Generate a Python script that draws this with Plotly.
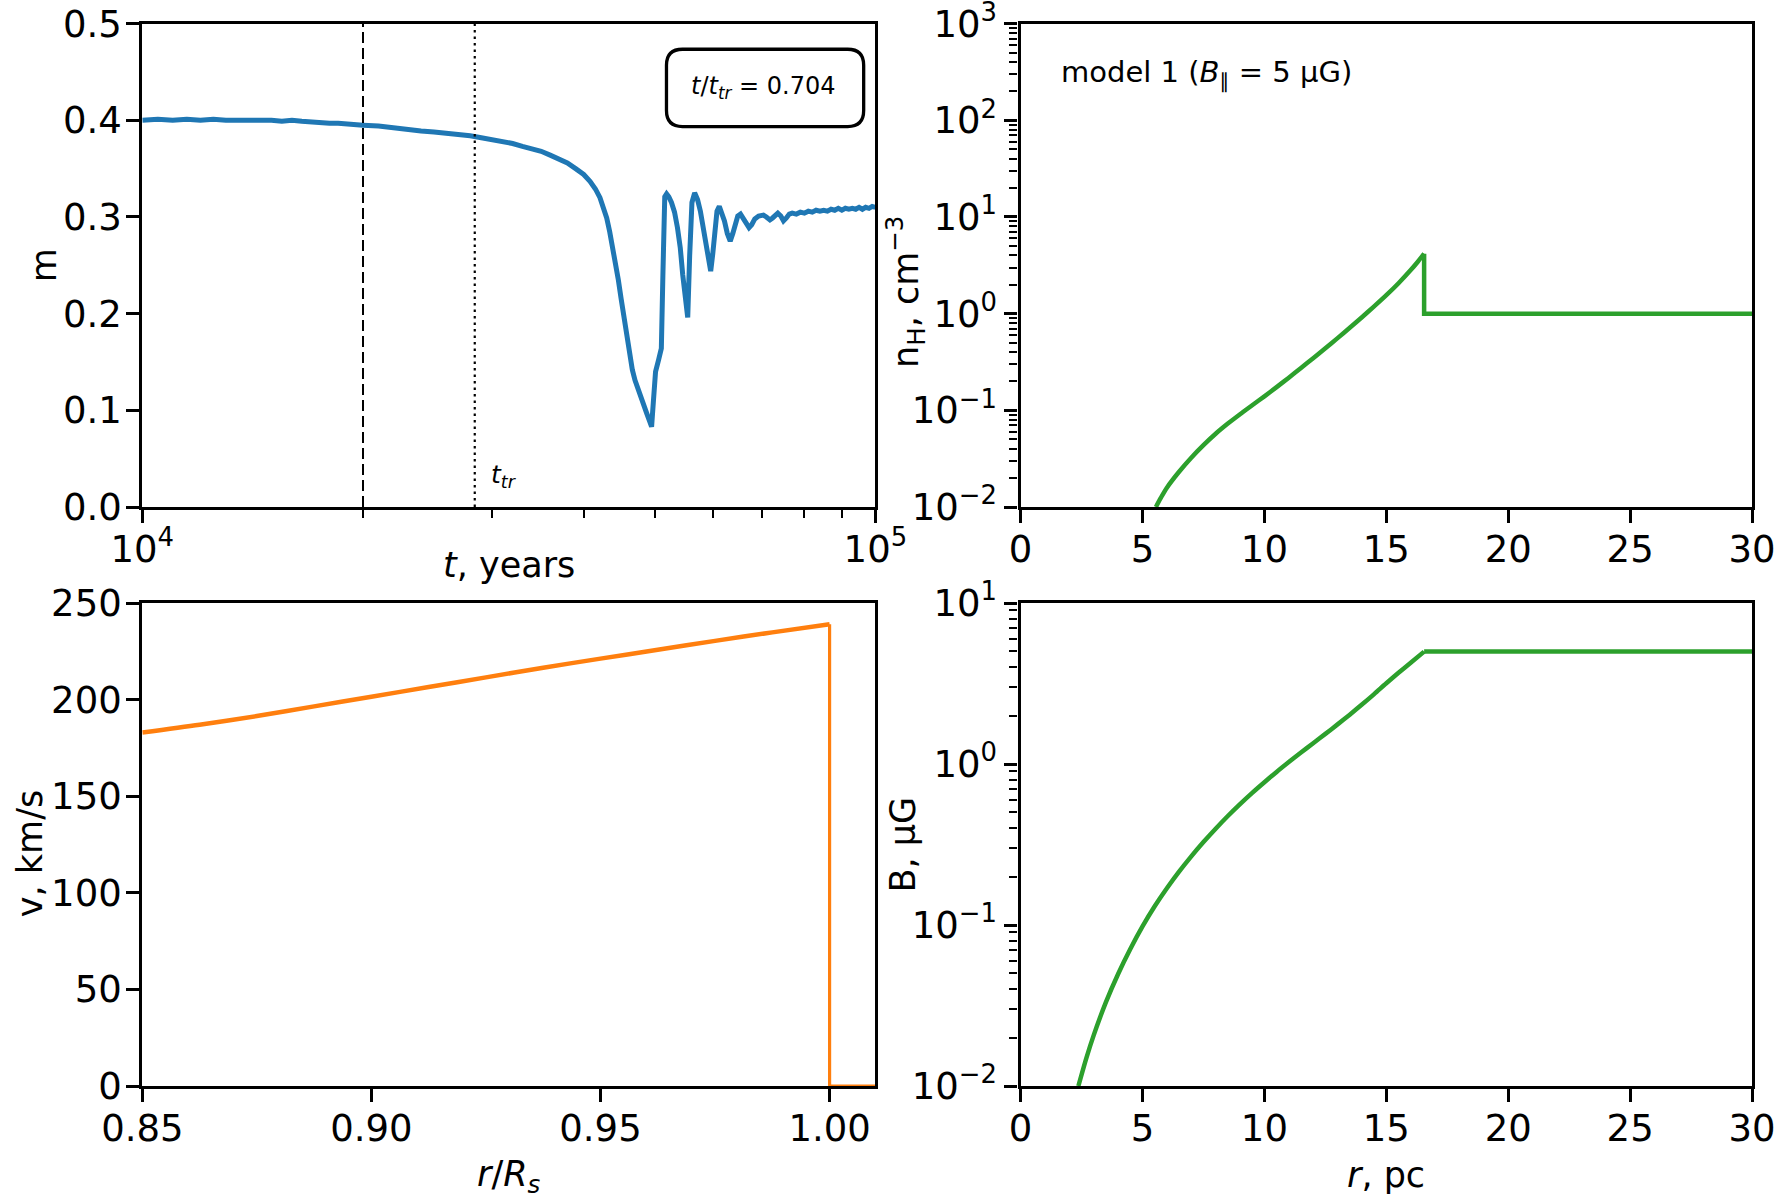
import plotly.graph_objects as go

# ---------------- data ----------------
t_years = [10000, 10500, 11000, 11500, 12000, 12500, 13000, 13500, 14000, 14500,
           15000, 15500, 16000, 16500, 17000, 17500, 18000, 18500, 19000, 19500,
           20000, 21000, 22000, 23000, 24000, 25000, 26000, 27000, 28000, 29000,
           30000, 31000, 32000, 33000, 34000, 35000, 36000, 37000, 38000, 39000,
           40000, 40800, 41500, 42100, 42600, 43000, 43400, 43800, 44200, 44600,
           45000, 45400, 45800, 46200, 46600, 47000, 47600, 48200, 48800, 49300,
           49510, 49800, 50130, 50600, 51050, 51300, 51600, 51900, 52260, 52700,
           53210, 53700, 54180, 54600, 55000, 55460, 55800, 56200, 56680, 57200,
           57710, 58200, 58700, 59200, 59610, 60000, 60400, 60800, 61240, 61700,
           62240, 62800, 63380, 63900, 64400, 64900, 65460, 66000, 66600, 67240,
           67800, 68470, 69300, 70350, 71000, 71800, 72400, 72940, 73600, 74300,
           74930, 75600, 76300, 77000, 78000, 79000, 80000, 81000, 82000, 83000,
           84000, 85000, 86000, 87000, 88000, 89000, 90000, 91000, 92000, 93000,
           94000, 95000, 96000, 97000, 98000, 99000, 100000]
m_vals = [0.400, 0.401, 0.400, 0.401, 0.400, 0.401, 0.400, 0.400, 0.401, 0.400,
          0.400, 0.399, 0.400, 0.399, 0.398, 0.398, 0.397, 0.397, 0.396, 0.395,
          0.395, 0.394, 0.392, 0.391, 0.389, 0.388, 0.387, 0.385, 0.384, 0.382,
          0.380, 0.378, 0.376, 0.373, 0.371, 0.368, 0.364, 0.360, 0.356, 0.350,
          0.344, 0.337, 0.329, 0.320, 0.310, 0.299, 0.285, 0.270, 0.253, 0.235,
          0.215, 0.195, 0.176, 0.158, 0.142, 0.131, 0.118, 0.107, 0.096, 0.087,
          0.083, 0.110, 0.140, 0.152, 0.164, 0.240, 0.321, 0.324, 0.321, 0.315,
          0.305, 0.289, 0.268, 0.240, 0.215, 0.196, 0.260, 0.315, 0.325, 0.318,
          0.306, 0.290, 0.270, 0.252, 0.244, 0.262, 0.290, 0.306, 0.311, 0.305,
          0.296, 0.283, 0.275, 0.283, 0.293, 0.301, 0.303, 0.299, 0.293, 0.289,
          0.292, 0.298, 0.301, 0.302, 0.300, 0.297, 0.299, 0.302, 0.304, 0.301,
          0.296, 0.299, 0.303, 0.304, 0.303, 0.305, 0.304, 0.306, 0.305, 0.307,
          0.306, 0.307, 0.306, 0.308, 0.307, 0.309, 0.307, 0.309, 0.308, 0.309,
          0.308, 0.310, 0.308, 0.310, 0.309, 0.311, 0.310]
t_now = 20000
t_tr = 28410
ratio_label = "0.704"

r_rel = [0.85, 0.8625, 0.875, 0.8875, 0.9, 0.9125, 0.925, 0.9375, 0.95,
         0.9625, 0.975, 0.9875, 1.0, 1.0, 1.01]
v_kms = [183, 187, 191.5, 196.5, 201.5, 206.5, 211.5, 216.5, 221.2,
         225.8, 230.4, 234.8, 239, 0, 0]
v_peak = 12  # index of the shock front in r_rel / v_kms

r_pc_n = [5.55, 5.75, 6.0, 6.5, 7.0, 7.5, 8.0, 8.5, 9.0, 9.5, 10.0, 10.5, 11.0,
          11.5, 12.0, 12.5, 13.0, 13.5, 14.0, 14.5, 15.0, 15.5, 16.0, 16.3, 16.55,
          16.55, 30.0]
n_H = [0.0100, 0.01242, 0.01585, 0.02317, 0.03236, 0.04365, 0.05723, 0.07286,
       0.09120, 0.1129, 0.1396, 0.1738, 0.2178, 0.2742, 0.3459, 0.4385, 0.5585,
       0.7145, 0.9183, 1.189, 1.552, 2.065, 2.825, 3.467, 4.169, 1.0, 1.0]
n_peak = 24

r_pc_B = [2.37, 2.7, 3.0, 3.5, 4.0, 4.5, 5.0, 5.5, 6.0, 6.5, 7.0, 7.5, 8.0,
          8.5, 9.0, 9.5, 10.0, 10.5, 11.0, 11.5, 12.0, 12.5, 13.0, 13.5, 14.0,
          14.5, 15.0, 15.5, 16.0, 16.55, 30.0]
B_uG = [0.0100, 0.01496, 0.02070, 0.03319, 0.04966, 0.07096, 0.09795, 0.1306,
        0.1690, 0.2143, 0.2667, 0.3273, 0.3963, 0.4753, 0.5636, 0.6622, 0.7709,
        0.8933, 1.028, 1.178, 1.346, 1.538, 1.762, 2.025, 2.339, 2.716, 3.174,
        3.686, 4.256, 4.989, 4.989]
B_peak = 29

m_ticks = [0.0, 0.1, 0.2, 0.3, 0.4, 0.5]
t_major = [1e4, 1e5]
t_major_text = ["10<sup>4</sup>", "10<sup>5</sup>"]
t_minor = [2e4, 3e4, 4e4, 5e4, 6e4, 7e4, 8e4, 9e4]
r_ticks = [0, 5, 10, 15, 20, 25, 30]
n_major = [1e-2, 1e-1, 1e0, 1e1, 1e2, 1e3]
n_major_text = ["10<sup>−2</sup>", "10<sup>−1</sup>", "10<sup>0</sup>",
                "10<sup>1</sup>", "10<sup>2</sup>", "10<sup>3</sup>"]
B_major = [1e-2, 1e-1, 1e0, 1e1]
B_major_text = ["10<sup>−2</sup>", "10<sup>−1</sup>", "10<sup>0</sup>", "10<sup>1</sup>"]
rr_ticks = [0.85, 0.90, 0.95, 1.00]
v_ticks = [0, 50, 100, 150, 200, 250]


def log_minor(lo, hi):
    out = []
    for k in range(lo, hi):
        for d in range(2, 10):
            out.append(d * 10.0 ** k)
    return out


# ---------------- layout geometry ----------------
XD1 = [0.0796, 0.4896]
XD2 = [0.5708, 0.9799]
YDT = [0.5775, 0.9803]
YDB = [0.095, 0.4975]

FONT = "DejaVu Sans"
TICKF = dict(family=FONT, size=37, color="black")
BLUE, ORANGE, GREEN = "#1f77b4", "#ff7f0e", "#2ca02c"
LW = 3.4
CW = 4.5

fig = go.Figure()

fig.add_trace(go.Scatter(x=t_years, y=m_vals, mode="lines",
                         line=dict(color=BLUE, width=5), xaxis="x", yaxis="y"))
fig.add_trace(go.Scatter(x=[t_now, t_now], y=[m_ticks[0], m_ticks[-1]], mode="lines",
                         line=dict(color="black", width=2, dash="11px,5px"),
                         xaxis="x", yaxis="y"))
fig.add_trace(go.Scatter(x=[t_tr, t_tr], y=[m_ticks[0], m_ticks[-1]], mode="lines",
                         line=dict(color="black", width=2.2, dash="2.5px,4px"),
                         xaxis="x", yaxis="y"))
# n_H: smooth interior part + jump and flat ambient part
fig.add_trace(go.Scatter(x=r_pc_n[:n_peak + 1], y=n_H[:n_peak + 1], mode="lines",
                         line=dict(color=GREEN, width=CW, shape="spline", smoothing=0.8),
                         xaxis="x2", yaxis="y2"))
fig.add_trace(go.Scatter(x=r_pc_n[n_peak:], y=n_H[n_peak:], mode="lines",
                         line=dict(color=GREEN, width=CW), xaxis="x2", yaxis="y2"))
# velocity
fig.add_trace(go.Scatter(x=r_rel[:v_peak + 1], y=v_kms[:v_peak + 1], mode="lines",
                         line=dict(color=ORANGE, width=CW, shape="spline", smoothing=0.8),
                         xaxis="x3", yaxis="y3"))
fig.add_trace(go.Scatter(x=r_rel[v_peak:], y=v_kms[v_peak:], mode="lines",
                         line=dict(color=ORANGE, width=3.2), xaxis="x3", yaxis="y3"))
# B
fig.add_trace(go.Scatter(x=r_pc_B[:B_peak + 1], y=B_uG[:B_peak + 1], mode="lines",
                         line=dict(color=GREEN, width=CW, shape="spline", smoothing=0.8),
                         xaxis="x4", yaxis="y4"))
fig.add_trace(go.Scatter(x=r_pc_B[B_peak:], y=B_uG[B_peak:], mode="lines",
                         line=dict(color=GREEN, width=CW), xaxis="x4", yaxis="y4"))


def ax(**kw):
    base = dict(showline=True, mirror=True, linecolor="black", linewidth=LW,
                ticks="outside", ticklen=13, tickwidth=LW, tickcolor="black",
                showgrid=False, zeroline=False, tickfont=TICKF, automargin=False,
                ticklabeloverflow="allow")
    base.update(kw)
    return base


def minor(vals):
    return dict(tickmode="array", tickvals=vals, ticks="outside", ticklen=8,
                tickwidth=2.4, tickcolor="black", showgrid=False)


XSO = -6   # x tick-label standoff
YSO = -3   # linear y tick-label standoff
LSO = 0    # log y tick-label standoff

fig.update_layout(
    width=1788, height=1200, autosize=False,
    margin=dict(l=0, r=0, t=0, b=0, pad=0),
    paper_bgcolor="white", plot_bgcolor="white",
    showlegend=False,
    font=dict(family=FONT, color="black"),
    xaxis=ax(domain=XD1, anchor="y", type="log", range=[4, 5],
             tickmode="array", tickvals=t_major, ticktext=t_major_text,
             minor=minor(t_minor), ticklabelstandoff=XSO),
    yaxis=ax(domain=YDT, anchor="x", range=[0, 0.5], tickmode="array",
             tickvals=m_ticks, tickformat=".1f", ticklabelstandoff=YSO),
    xaxis2=ax(domain=XD2, anchor="y2", range=[0, 30], tickmode="array",
              tickvals=r_ticks, ticklabelstandoff=XSO),
    yaxis2=ax(domain=YDT, anchor="x2", type="log", range=[-2, 3],
              tickmode="array", tickvals=n_major, ticktext=n_major_text,
              minor=minor(log_minor(-2, 3)), ticklabelstandoff=LSO),
    xaxis3=ax(domain=XD1, anchor="y3", range=[0.85, 1.01], tickmode="array",
              tickvals=rr_ticks, tickformat=".2f", ticklabelstandoff=XSO),
    yaxis3=ax(domain=YDB, anchor="x3", range=[0, 250], tickmode="array",
              tickvals=v_ticks, ticklabelstandoff=YSO),
    xaxis4=ax(domain=XD2, anchor="y4", range=[0, 30], tickmode="array",
              tickvals=r_ticks, ticklabelstandoff=XSO),
    yaxis4=ax(domain=YDB, anchor="x4", type="log", range=[-2, 1],
              tickmode="array", tickvals=B_major, ticktext=B_major_text,
              minor=minor(log_minor(-2, 1)), ticklabelstandoff=LSO),
)

TF = dict(family=FONT, size=35, color="black")
ann = [
    dict(text="m", xref="paper", x=44 / 1788, yref="y domain", y=0.5,
         textangle=-90, font=TF, showarrow=False, xanchor="center", yanchor="middle"),
    dict(text="<i>t</i>, years", xref="x domain", x=0.5, yref="y domain", y=-0.12,
         font=TF, showarrow=False, xanchor="center", yanchor="middle"),
    dict(text="n<sub>H</sub>, cm<sup>−3</sup>", xref="paper", x=906 / 1788,
         yref="y2 domain", y=0.445, textangle=-90, font=TF, showarrow=False,
         xanchor="center", yanchor="middle"),
    dict(text="v, km/s", xref="paper", x=30 / 1788, yref="y3 domain", y=0.48,
         textangle=-90, font=TF, showarrow=False, xanchor="center", yanchor="middle"),
    dict(text="<i>r</i>/<i>R<sub>s</sub></i>", xref="x3 domain", x=0.5,
         yref="y3 domain", y=-0.187, font=TF, showarrow=False,
         xanchor="center", yanchor="middle"),
    dict(text="B, μG", xref="paper", x=903 / 1788, yref="y4 domain", y=0.5,
         textangle=-90, font=TF, showarrow=False, xanchor="center", yanchor="middle"),
    dict(text="<i>r</i>, pc", xref="x4 domain", x=0.5, yref="y4 domain", y=-0.185,
         font=TF, showarrow=False, xanchor="center", yanchor="middle"),
    dict(text="<i>t</i>/<i>t<sub>tr</sub></i> = " + ratio_label, xref="x domain",
         x=0.847, yref="y domain", y=0.867, font=dict(family=FONT, size=24),
         showarrow=False, xanchor="center", yanchor="middle"),
    dict(text="<i>t<sub>tr</sub></i>", xref="x domain", x=0.473, yref="y domain",
         y=0.065, font=dict(family=FONT, size=25), showarrow=False,
         xanchor="left", yanchor="middle"),
    dict(text="model 1 (<i>B</i><sub>∥</sub> = 5 μG)", xref="x2 domain", x=0.0525,
         yref="y2 domain", y=0.896, font=dict(family=FONT, size=29),
         showarrow=False, xanchor="left", yanchor="middle"),
]
fig.update_layout(annotations=ann)

# rounded box around the t/t_tr label (paper coords from axis domain)
bx0 = XD1[0] + 0.715 * (XD1[1] - XD1[0])
bx1 = XD1[0] + 0.984 * (XD1[1] - XD1[0])
by0 = YDT[0] + 0.787 * (YDT[1] - YDT[0])
by1 = YDT[0] + 0.947 * (YDT[1] - YDT[0])
rx, ry = 16 / 1788, 16 / 1200
path = (f"M {bx0+rx},{by0} L {bx1-rx},{by0} Q {bx1},{by0} {bx1},{by0+ry} "
        f"L {bx1},{by1-ry} Q {bx1},{by1} {bx1-rx},{by1} L {bx0+rx},{by1} "
        f"Q {bx0},{by1} {bx0},{by1-ry} L {bx0},{by0+ry} Q {bx0},{by0} {bx0+rx},{by0} Z")
fig.add_shape(type="path", path=path, xref="paper", yref="paper",
              line=dict(color="black", width=3.3), fillcolor="rgba(255,255,255,0.8)")

fig.write_html("out.html")
